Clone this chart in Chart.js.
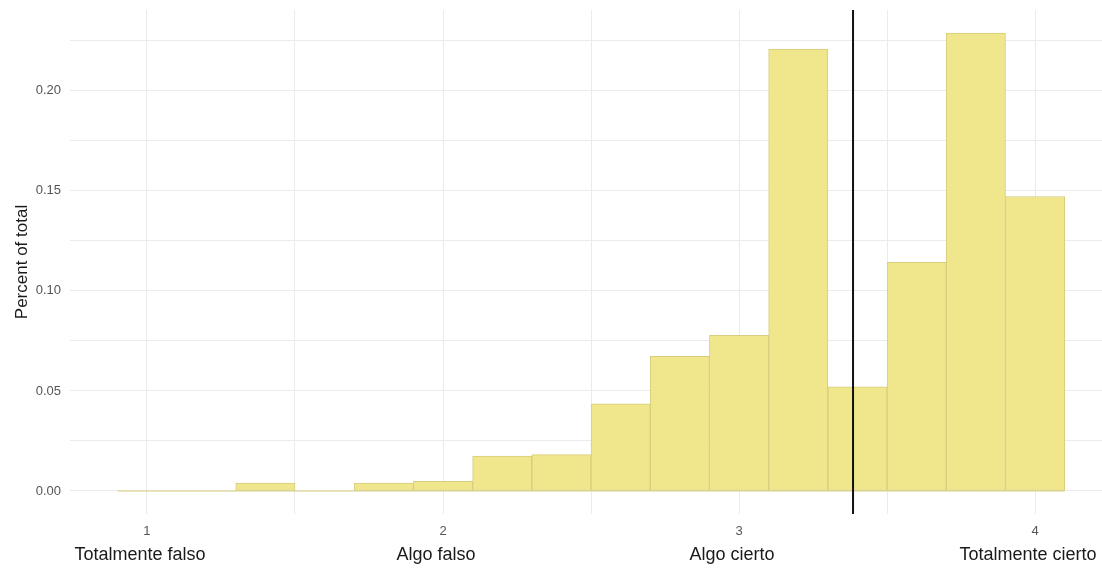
<!DOCTYPE html>
<html>
<head>
<meta charset="utf-8">
<script src="https://cdn.jsdelivr.net/npm/chart.js@4/dist/chart.umd.min.js"></script>
<style>
html,body{margin:0;padding:0;background:#fff;}
#wrap{width:1102px;height:568px;position:relative;}
</style>
</head>
<body>
<div id="wrap"><canvas id="c" width="1102" height="568"></canvas></div>
<script>
const binCenters = [1.0,1.2,1.4,1.6,1.8,2.0,2.2,2.4,2.6,2.8,3.0,3.2,3.4,3.6,3.8,4.0];
const binShares  = [0,0,0.004,0,0.004,0.0048,0.0175,0.0182,0.0436,0.0673,0.0778,0.2209,0.0520,0.1143,0.2289,0.1472];
const binWidth = 0.2;
const meanValue = 3.385;
const xTickValues = [1,1.5,2,2.5,3,3.5,4];
const xTickLabels = {1:'1',2:'2',3:'3',4:'4'};
const yTickValues = [0,0.025,0.05,0.075,0.1,0.125,0.15,0.175,0.2,0.225];
const yTickLabels = {0:'0.00',0.05:'0.05',0.1:'0.10',0.15:'0.15',0.2:'0.20'};
const answerValues = [1,2,3,4];
const answerLabels = ['Totalmente falso','Algo falso','Algo cierto','Totalmente cierto'];
const yAxisTitle = 'Percent of total';

const xMin = 0.74, xMax = 4.226, yMin = -0.0115, yMax = 0.2404;
const FONT = '"Liberation Sans", Arial, sans-serif';

const labelPlugin = {
  id:'answerLabels',
  afterDraw(chart){
    const ctx = chart.ctx, xs = chart.scales.x;
    ctx.save();
    ctx.font = '18px ' + FONT;
    ctx.fillStyle = '#1a1a1a';
    ctx.textAlign = 'center';
    ctx.textBaseline = 'middle';
    answerValues.forEach((v,i)=>{
      ctx.fillText(answerLabels[i], xs.getPixelForValue(v) - 7, 555);
    });
    ctx.restore();
  }
};

new Chart(document.getElementById('c'), {
  type:'bar',
  data:{
    datasets:[
      {
        type:'line',
        data:[{x:meanValue,y:yMin},{x:meanValue,y:yMax}],
        borderColor:'#111111',
        borderWidth:2,
        pointRadius:0,
        order:0
      },
      {
        type:'bar',
        data:binCenters.map((x,i)=>({x:x,y:binShares[i]})),
        backgroundColor:'#F0E68C',
        borderColor:'#D6CD7E',
        borderWidth:1,
        borderSkipped:false,
        barPercentage:1,
        categoryPercentage:1,
        order:1
      },
      {
        type:'line',
        data:[{x:binCenters[0]-binWidth/2,y:0},{x:binCenters[binCenters.length-1]+binWidth/2,y:0}],
        borderColor:'#D6CD7E',
        borderWidth:1,
        pointRadius:0,
        order:2
      }
    ]
  },
  options:{
    responsive:false,
    animation:false,
    layout:{padding:{top:10,right:0,bottom:0,left:0}},
    plugins:{legend:{display:false},tooltip:{enabled:false}},
    scales:{
      x:{
        type:'linear',
        min:xMin,max:xMax,
        offset:false,
        border:{display:false},
        grid:{color:'#EBEBEB',lineWidth:1,drawTicks:false,offset:false},
        afterBuildTicks(s){ s.ticks = xTickValues.map(v=>({value:v})); },
        afterFit(s){ s.height = 54; s.paddingLeft = 0; s.paddingRight = 0; },
        ticks:{
          padding:10,
          autoSkip:false,
          maxRotation:0,
          color:'#555555',
          font:{family:FONT,size:13},
          callback:(v)=> xTickLabels[v] !== undefined ? xTickLabels[v] : ''
        }
      },
      y:{
        min:yMin,max:yMax,
        border:{display:false},
        grid:{color:'#EBEBEB',lineWidth:1,drawTicks:false},
        afterBuildTicks(s){ s.ticks = yTickValues.map(v=>({value:v})); },
        afterFit(s){ s.width = 70; s.paddingTop = 0; s.paddingBottom = 0; },
        title:{display:true,text:yAxisTitle,color:'#1a1a1a',
          font:{family:FONT,size:17},padding:{top:12,bottom:0}},
        ticks:{
          padding:9,
          autoSkip:false,
          color:'#555555',
          font:{family:FONT,size:13},
          callback:(v)=>{ const k = Math.round(v*1000)/1000; return yTickLabels[k] !== undefined ? yTickLabels[k] : ''; }
        }
      }
    }
  },
  plugins:[labelPlugin]
});
</script>
</body>
</html>
